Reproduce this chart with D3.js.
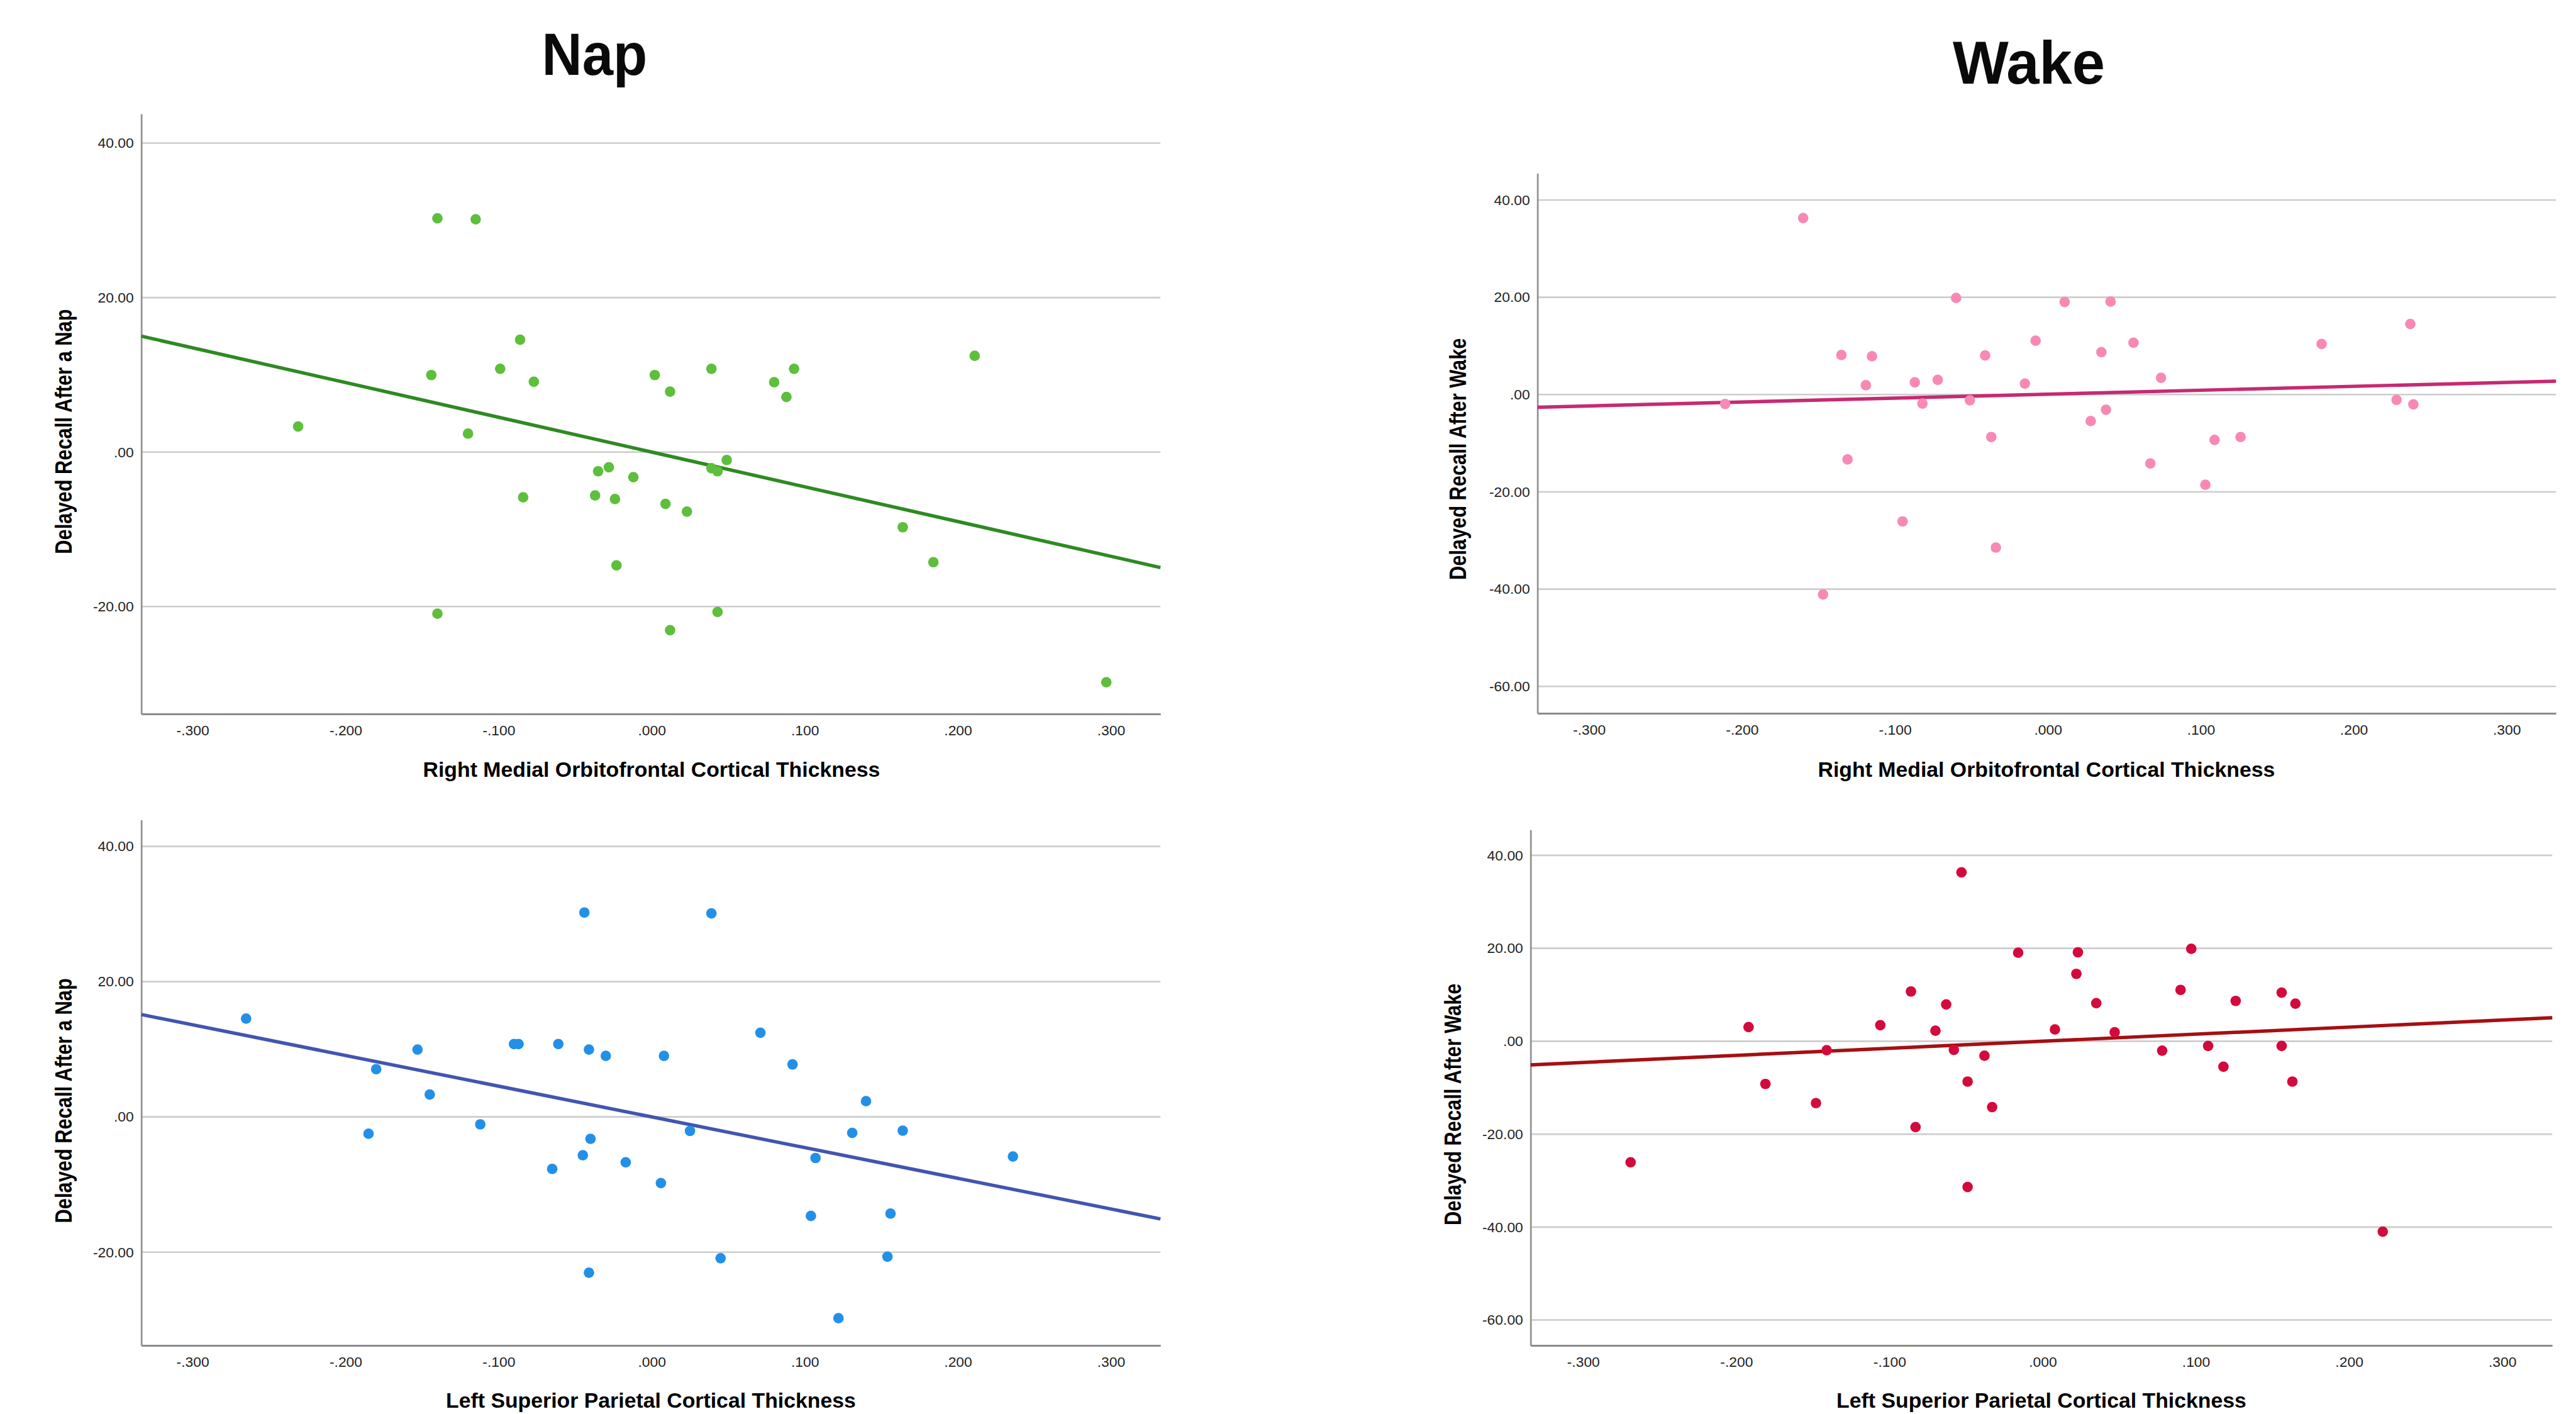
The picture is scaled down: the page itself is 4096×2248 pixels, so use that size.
<!DOCTYPE html>
<html><head><meta charset="utf-8">
<script src="https://cdn.jsdelivr.net/npm/d3@7"></script>
<style>html,body{margin:0;padding:0;background:#fff;overflow:hidden}</style>
</head><body>
<svg id="chart"></svg>
<script>
// ---------- data ----------
const xTicks = [-0.3, -0.2, -0.1, 0, 0.1, 0.2, 0.3];
const xTickLabels = ["-.300", "-.200", "-.100", ".000", ".100", ".200", ".300"];
const napYTicks = [40, 20, 0, -20];
const napYTickLabels = ["40.00", "20.00", ".00", "-20.00"];
const wakeYTicks = [40, 20, 0, -20, -40, -60];
const wakeYTickLabels = ["40.00", "20.00", ".00", "-20.00", "-40.00", "-60.00"];

const groupTitles = ["Nap", "Wake"];
const xTitles = ["Right Medial Orbitofrontal Cortical Thickness", "Right Medial Orbitofrontal Cortical Thickness",
                 "Left Superior Parietal Cortical Thickness", "Left Superior Parietal Cortical Thickness"];
const yTitles = ["Delayed Recall After a Nap", "Delayed Recall After Wake",
                 "Delayed Recall After a Nap", "Delayed Recall After Wake"];

// Nap — right medial orbitofrontal
const napOFCx = [-0.140,-0.115,-0.086,0.211,-0.144,-0.099,-0.077,0.002,0.039,0.093,0.080,0.088,0.012,-0.231,-0.120,0.049,0.039,0.043,-0.028,-0.035,-0.012,-0.084,-0.037,-0.024,0.009,0.023,0.164,0.184,-0.023,-0.140,0.043,0.012,0.297];
const napOFCy = [30.26,30.14,14.55,12.46,9.97,10.78,9.10,9.97,10.78,10.78,9.04,7.13,7.83,3.30,2.38,-1.04,-2.09,-2.49,-1.97,-2.49,-3.25,-5.86,-5.62,-6.09,-6.72,-7.71,-9.74,-14.26,-14.67,-20.93,-20.70,-23.07,-29.80];
// Wake — right medial orbitofrontal
const wakeOFCx = [-0.160,-0.060,0.011,0.041,0.237,-0.008,0.056,0.179,-0.135,-0.115,-0.041,0.035,-0.119,-0.087,-0.072,-0.015,0.074,-0.211,-0.082,-0.051,0.228,0.239,0.038,0.028,-0.037,0.109,0.126,-0.131,0.067,0.103,-0.095,-0.034,-0.147];
const wakeOFCy = [36.31,19.87,19.04,19.12,14.51,11.07,10.65,10.40,8.13,7.88,8.05,8.72,1.93,2.52,3.02,2.26,3.44,-1.93,-1.84,-1.17,-1.09,-2.01,-3.10,-5.45,-8.72,-9.31,-8.72,-13.33,-14.17,-18.53,-26.08,-31.45,-41.09];
// Nap — left superior parietal
const napSPx = [-0.044,0.039,-0.265,0.071,-0.090,-0.087,-0.061,-0.153,-0.041,-0.030,0.008,0.092,-0.180,-0.145,0.140,-0.112,-0.185,0.025,0.131,0.164,-0.040,-0.045,0.107,0.236,-0.065,-0.017,0.006,0.104,0.156,0.045,0.154,-0.041,0.122];
const napSPy = [30.22,30.10,14.53,12.45,10.77,10.77,10.77,9.96,9.96,9.03,9.03,7.76,7.06,3.30,2.32,-1.10,-2.49,-2.08,-2.37,-2.03,-3.24,-5.67,-6.08,-5.85,-7.70,-6.72,-9.78,-14.65,-14.30,-20.90,-20.67,-23.04,-29.76];
// Wake — left superior parietal
const wakeSPx = [-0.053,-0.016,0.023,0.097,0.022,-0.086,0.090,0.156,-0.063,0.035,0.126,0.165,-0.192,-0.106,-0.070,0.008,0.047,-0.141,-0.058,0.078,0.108,0.156,-0.038,0.118,-0.049,0.163,-0.181,-0.148,-0.033,-0.083,-0.269,-0.049,0.222];
const wakeSPy = [36.34,19.06,19.14,19.90,14.50,10.71,11.05,10.46,7.93,8.18,8.68,8.09,3.04,3.46,2.28,2.53,1.94,-1.94,-1.86,-2.02,-1.01,-1.01,-3.12,-5.48,-8.68,-8.68,-9.19,-13.32,-14.17,-18.47,-26.05,-31.37,-40.98];

// linear fit lines (slope, intercept)
const fitSlopes = [-45.0, 8.06, -45.4, 15.2];
const fitIntercepts = [0.0, 0.09, 0.0, 0.0];

const pointColors = ["#5DBF3C", "#F889B5", "#2390E8", "#D40A3C"];
const lineColors  = ["#2E8A22", "#C62A72", "#4255B0", "#A60F12"];

// ---------- layout (reference pixel space 4120 x 2261) ----------
const W = 4120, H = 2261;
const svg = d3.select("#chart")
  .attr("width", 4096).attr("height", 2248)
  .attr("viewBox", `0 0 ${W} ${H}`)
  .style("display", "block");
svg.append("rect").attr("width", W).attr("height", H).attr("fill", "#fff");

const FONT = "'Liberation Sans', Arial, Helvetica, sans-serif";

const panels = [
  {xs: napOFCx,  ys: napOFCy,  yT: napYTicks,  yL: napYTickLabels,
   left: 226,  right: 1856, top: 182,  bottom: 1141.6, xDom: [-0.33345, 0.33236], yDom: [-33.91, 43.79],
   yTitleX: 115,  yTitleY: 690,  xTitleX: 1042, xTitleY: 1242},
  {xs: wakeOFCx, ys: wakeOFCy, yT: wakeYTicks, yL: wakeYTickLabels,
   left: 2459, right: 4088, top: 277,  bottom: 1140.6, xDom: [-0.33373, 0.33226], yDom: [-65.53, 45.5],
   yTitleX: 2345, yTitleY: 734,  xTitleX: 3273, xTitleY: 1242},
  {xs: napSPx,   ys: napSPy,   yT: napYTicks,  yL: napYTickLabels,
   left: 226,  right: 1856, top: 1311, bottom: 2151.5, xDom: [-0.33345, 0.33236], yDom: [-33.80, 43.92],
   yTitleX: 115,  yTitleY: 1760, xTitleX: 1041, xTitleY: 2251},
  {xs: wakeSPx,  ys: wakeSPy,  yT: wakeYTicks, yL: wakeYTickLabels,
   left: 2448, right: 4082, top: 1327, bottom: 2151.5, xDom: [-0.33429, 0.33265], yDom: [-65.48, 45.49],
   yTitleX: 2337, yTitleY: 1766, xTitleX: 3265, xTitleY: 2251}
];

panels.forEach((p, i) => {
  const x = d3.scaleLinear().domain(p.xDom).range([p.left, p.right]);
  const y = d3.scaleLinear().domain(p.yDom).range([p.bottom, p.top]);
  const g = svg.append("g");

  // gridlines
  g.append("g").selectAll("line").data(p.yT).join("line")
    .attr("x1", p.left).attr("x2", p.right)
    .attr("y1", d => y(d)).attr("y2", d => y(d))
    .attr("stroke", "#cdcdcd").attr("stroke-width", 2.6);

  // y axis
  const yAx = g.append("g").attr("transform", `translate(${p.left},0)`)
    .call(d3.axisLeft(y).tickValues(p.yT).tickFormat((d, k) => p.yL[k])
      .tickSizeInner(0).tickSizeOuter(0).tickPadding(12));
  yAx.select(".domain").attr("stroke", "#939393").attr("stroke-width", 2.8);
  yAx.selectAll("text").attr("font-family", FONT).attr("font-size", 23).attr("fill", "#222");

  // x axis
  const xAx = g.append("g").attr("transform", `translate(0,${p.bottom})`)
    .call(d3.axisBottom(x).tickValues(xTicks).tickFormat((d, k) => xTickLabels[k])
      .tickSizeInner(0).tickSizeOuter(0).tickPadding(18));
  xAx.select(".domain").attr("stroke", "#8a8a8a").attr("stroke-width", 3);
  xAx.selectAll("text").attr("font-family", FONT).attr("font-size", 23).attr("fill", "#222");

  // fit line
  const fx = p.xDom;
  g.append("line")
    .attr("x1", x(fx[0])).attr("y1", y(fitIntercepts[i] + fitSlopes[i] * fx[0]))
    .attr("x2", x(fx[1])).attr("y2", y(fitIntercepts[i] + fitSlopes[i] * fx[1]))
    .attr("stroke", lineColors[i]).attr("stroke-width", 5.5);

  // points
  g.append("g").selectAll("circle").data(p.xs.map((v, k) => [v, p.ys[k]])).join("circle")
    .attr("cx", d => x(d[0])).attr("cy", d => y(d[1])).attr("r", 8.4)
    .attr("fill", pointColors[i]);

  // axis titles
  g.append("text")
    .attr("transform", `translate(${p.yTitleX},${p.yTitleY}) rotate(-90) scale(1,1.18)`)
    .attr("text-anchor", "middle")
    .attr("font-family", FONT).attr("font-weight", "bold").attr("font-size", 31)
    .attr("fill", "#000").text(yTitles[i]);
  g.append("text")
    .attr("x", p.xTitleX).attr("y", p.xTitleY)
    .attr("text-anchor", "middle")
    .attr("font-family", FONT).attr("font-weight", "bold").attr("font-size", 34)
    .attr("fill", "#000").text(xTitles[i]);
});

// group titles
svg.append("text").attr("transform", "translate(951,120) scale(0.94,1)")
  .attr("text-anchor", "middle").attr("font-family", FONT).attr("font-weight", "bold")
  .attr("font-size", 95).attr("fill", "#0a0a0a").text(groupTitles[0]);
svg.append("text").attr("transform", "translate(3245,134) scale(0.975,1)")
  .attr("text-anchor", "middle").attr("font-family", FONT).attr("font-weight", "bold")
  .attr("font-size", 97).attr("fill", "#0a0a0a").text(groupTitles[1]);
</script>
</body></html>
